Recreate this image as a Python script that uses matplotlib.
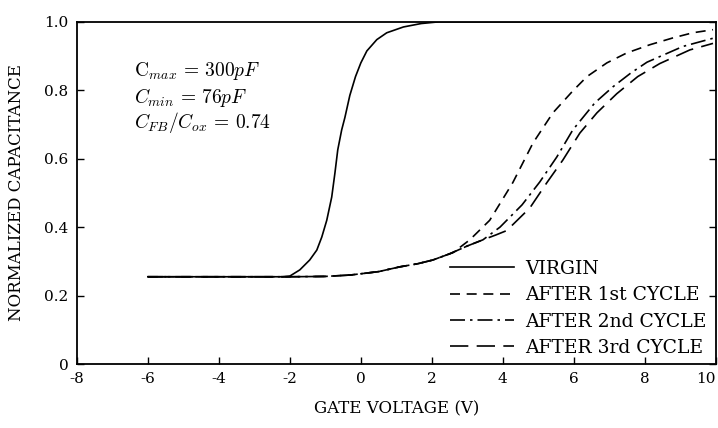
import numpy as np
import matplotlib.pyplot as plt

plt.rcParams['font.family'] = 'DejaVu Serif'
plt.rcParams['mathtext.fontset'] = 'cm'

# C-V curves, normalized capacitance vs gate voltage
v_virgin = [-6.0, -5.0, -4.0, -3.0, -2.2, -2.0, -1.72, -1.44, -1.24, -1.1, -0.96, -0.82,
            -0.73, -0.65, -0.54, -0.45, -0.31, -0.15, 0.0, 0.17, 0.45, 0.73, 1.2, 1.7, 2.2, 10.0]
c_virgin = [0.255, 0.255, 0.255, 0.255, 0.255, 0.257, 0.275, 0.304, 0.333, 0.371, 0.42, 0.488,
            0.558, 0.626, 0.684, 0.72, 0.785, 0.84, 0.88, 0.915, 0.948, 0.968, 0.985, 0.995, 1.0, 1.0]

# common depletion branch before the curves split
v_low = [-6.0, -4.0, -2.0, -1.0, -0.3, 0.5, 1.1, 1.6, 2.03, 2.5]
c_low = [0.255, 0.255, 0.255, 0.256, 0.26, 0.27, 0.284, 0.293, 0.304, 0.322]

v_cyc1 = v_low + [2.59, 3.07, 3.63, 4.28, 4.85, 5.41, 5.97, 6.37, 6.93, 7.49, 8.14, 8.79, 9.35, 9.92]
c_cyc1 = c_low + [0.325, 0.363, 0.42, 0.53, 0.646, 0.734, 0.798, 0.84, 0.88, 0.909, 0.933, 0.953, 0.968, 0.977]

v_cyc2 = v_low + [3.0, 3.44, 3.92, 4.54, 5.04, 5.52, 5.97, 6.59, 7.1, 7.6, 8.06, 9.07, 9.92]
c_cyc2 = c_low + [0.345, 0.363, 0.40, 0.465, 0.532, 0.605, 0.684, 0.763, 0.81, 0.85, 0.882, 0.928, 0.952]

v_cyc3 = v_low + [3.0, 3.44, 3.8, 4.11, 4.76, 5.24, 5.69, 6.17, 6.65, 7.21, 7.8, 8.42, 9.27, 9.92]
c_cyc3 = c_low + [0.345, 0.363, 0.377, 0.39, 0.456, 0.53, 0.596, 0.675, 0.734, 0.79, 0.84, 0.878, 0.918, 0.937]

labels = ['VIRGIN', 'AFTER 1st CYCLE', 'AFTER 2nd CYCLE', 'AFTER 3rd CYCLE']
xticks = [-8, -6, -4, -2, 0, 2, 4, 6, 8, 10]
yticks = [0, 0.2, 0.4, 0.6, 0.8, 1.0]
ytick_labels = ['0', '0.2', '0.4', '0.6', '0.8', '1.0']

fig = plt.figure(figsize=(7.18, 4.28), dpi=100)
ax = fig.add_axes([0.107, 0.1495, 0.89, 0.7995])

lw = 1.2
ax.plot(v_virgin, c_virgin, color='black', lw=lw, label=labels[0])
ax.plot(v_cyc1, c_cyc1, color='black', lw=lw, dashes=(6, 4), label=labels[1])
ax.plot(v_cyc2, c_cyc2, color='black', lw=lw, dashes=(9, 3, 1.5, 3), label=labels[2])
ax.plot(v_cyc3, c_cyc3, color='black', lw=lw, dashes=(11, 5), label=labels[3])

ax.set_xlim(-8, 10)
ax.set_ylim(0, 1.0)
ax.set_xticks(xticks)
ax.set_xticklabels([str(t) for t in xticks])
ax.set_yticks(yticks)
ax.set_yticklabels(ytick_labels)
ax.tick_params(direction='in', length=5, width=1, labelsize=11, right=True, pad=6)
# last x label sits at the right edge of the figure
ax.get_xticklabels()[-1].set_horizontalalignment('right')
for s in ax.spines.values():
    s.set_linewidth(1.3)

ax.set_xlabel('GATE VOLTAGE (V)', fontsize=12, labelpad=10)
ax.set_ylabel('NORMALIZED CAPACITANCE', fontsize=12, labelpad=14)

ax.text(-6.4, 0.855, r'$\mathrm{C}_{max}\,=\,300pF$', fontsize=14, va='center')
ax.text(-6.4, 0.78, r'$C_{min}\,=\,76pF$', fontsize=14, va='center')
ax.text(-6.4, 0.705, r'$C_{FB}/C_{ox}\,=\,0.74$', fontsize=14, va='center')

ax.legend(loc='upper left', bbox_to_anchor=(0.584, 0.305), frameon=False,
          fontsize=13.5, handlelength=3.4, handletextpad=0.6, labelspacing=0.45,
          borderpad=0, borderaxespad=0)

fig.savefig('out.png', dpi=100)
